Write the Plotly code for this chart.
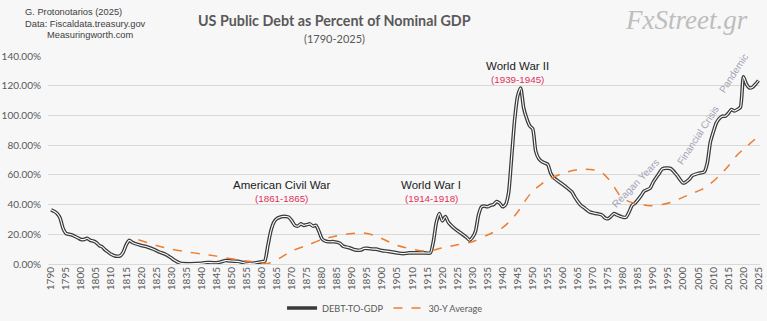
import plotly.graph_objects as go

# ---- data ----
debt_years = [1790, 1791, 1792, 1793, 1794, 1795, 1796, 1797, 1798, 1799, 1800, 1801, 1802, 1803, 1804,
              1805, 1806, 1807, 1808, 1809, 1810, 1811, 1812, 1813, 1814, 1815, 1816, 1817, 1818, 1820,
              1822, 1824, 1826, 1828, 1830, 1831, 1833, 1836, 1840, 1842, 1844, 1846, 1848, 1850, 1852,
              1855, 1857, 1860, 1861, 1862, 1863, 1864, 1865, 1866, 1867, 1868, 1869, 1870, 1871, 1872,
              1873, 1874, 1875, 1876, 1877, 1878, 1879, 1880, 1881, 1882, 1884, 1886, 1887, 1889, 1891,
              1893, 1894, 1895, 1897, 1898, 1900, 1902, 1905, 1907, 1909, 1911, 1914, 1916, 1917, 1918,
              1919, 1920, 1921, 1922, 1924, 1926, 1928, 1929, 1930, 1931, 1932, 1933, 1934, 1935, 1936,
              1937, 1938, 1939, 1940, 1941, 1942, 1943, 1944, 1945, 1946, 1947, 1948, 1949, 1950, 1951,
              1952, 1953, 1954, 1955, 1956, 1957, 1959, 1961, 1963, 1964, 1965, 1966, 1967, 1969, 1971,
              1973, 1974, 1975, 1976, 1977, 1978, 1980, 1981, 1982, 1983, 1984, 1986, 1987, 1989, 1990,
              1992, 1993, 1995, 1996, 1998, 2000, 2002, 2003, 2005, 2007, 2008, 2009, 2010, 2011, 2012,
              2013, 2014, 2015, 2016, 2017, 2018, 2019, 2020, 2021, 2022, 2023, 2024, 2025]
debt_values = [36.5, 35.5, 34, 31, 24, 20.5, 20, 19.5, 18.5, 17.5, 16.5, 16.5, 17.3, 16, 15.5,
               14.5, 12.5, 11.5, 9.5, 8, 6.5, 5.5, 5.2, 5.5, 8, 13, 15.9, 14.5, 13.7, 12.5,
               11.5, 10, 8, 6.5, 4, 2.5, 0.5, 0.2, 0.5, 1, 0.8, 1.2, 2.3, 2, 1.8,
               0.5, 0.5, 1.5, 2, 12, 22, 28, 30.5, 31.5, 32, 32, 31.5, 29, 26, 25.5,
               27, 26, 26.5, 27, 25.5, 26, 22, 17, 15.5, 15, 15, 14, 12, 11, 9.5,
               9.5, 10.5, 10.5, 10, 10, 9, 8.5, 7.5, 7, 7.5, 7.5, 7.5, 7.5, 15, 28,
               34, 29, 32, 28, 24, 21, 18, 16, 18, 22, 33, 38.5, 39, 38.5, 39.5,
               40, 42, 41, 38.5, 40, 48, 72, 97, 113, 118.5, 105, 98, 93, 91, 76,
               71, 69, 68, 67, 61, 58, 55, 52, 48.5, 45, 42, 39.5, 38, 35, 34,
               33, 31, 30.5, 32, 34, 33, 31.5, 31.5, 35, 39.5, 41, 46, 49, 51, 55,
               61, 64, 64.5, 64, 59.5, 54.5, 57, 59.5, 61, 62, 68, 82, 89, 95, 98,
               99.5, 99.5, 101.5, 104, 103, 104, 105.5, 126, 121, 118.5, 119, 121, 123.5]

avg_years = [1819, 1825, 1830, 1835, 1840, 1845, 1850, 1855, 1860, 1862, 1866, 1870, 1875, 1880, 1885,
             1890, 1893, 1897, 1900, 1905, 1910, 1915, 1920, 1925, 1930, 1935, 1940, 1942, 1945, 1948,
             1950, 1953, 1956, 1960, 1965, 1970, 1973, 1975, 1977, 1979, 1982, 1985, 1989, 1993, 1996,
             2000, 2003, 2006, 2009, 2012, 2015, 2018, 2021, 2025]
avg_values = [16.3, 12.5, 10, 8.2, 6.8, 5.3, 3.5, 2, 0.7, 0.3, 4, 8.8, 12.5, 16.5, 19,
              20.5, 21, 19.5, 17, 12.5, 10, 8.6, 10.8, 13, 15, 19.5, 24.5, 28, 35, 44,
              49, 54, 57.5, 61, 63.6, 63.5, 61.5, 57.6, 52, 46, 42, 40.5, 39.2, 40, 41.5,
              45, 47.5, 50, 54, 59.5, 66, 73.5, 79, 86]

x_ticks = list(range(1790, 2026, 5))
y_ticks = [0, 20, 40, 60, 80, 100, 120, 140]

# ---- styling ----
BG = "#f7f7f7"
GRID = "#d9d9d9"
TXT = "#595959"
SANS = "Liberation Sans, Arial"
CAL = "Lato, Open Sans, sans-serif"

W, H = 767, 321
L, R, T, B = 48, 7, 56, 56.5

fig = go.Figure()
fig.add_trace(go.Scatter(x=debt_years, y=debt_values, mode="lines", name="DEBT-TO-GDP",
                         line=dict(color="#3a3a3a", width=3.6, shape="spline", smoothing=0.6),
                         hoverinfo="skip"))
fig.add_trace(go.Scatter(x=debt_years, y=debt_values, mode="lines", name="inner",
                         line=dict(color="#ffffff", width=1.1, shape="spline", smoothing=0.6),
                         showlegend=False, hoverinfo="skip"))
fig.add_trace(go.Scatter(x=avg_years, y=avg_values, mode="lines", name="30-Y Average",
                         line=dict(color="#ed7d31", width=1.5, dash="dash", shape="spline", smoothing=0.8),
                         hoverinfo="skip"))

header = [
    dict(text="G. Protonotarios (2025)", x=23, y=12, font=dict(size=9.3, color="#404040", family=SANS), xanchor="left"),
    dict(text="Data: Fiscaldata.treasury.gov", x=23, y=24, font=dict(size=9.3, color="#404040", family=SANS), xanchor="left"),
    dict(text="Measuringworth.com", x=45, y=35, font=dict(size=9.3, color="#404040", family=SANS), xanchor="left"),
    dict(text="<b>US Public Debt as Percent of Nominal GDP</b>", x=334, y=20, font=dict(size=14.3, color=TXT, family=CAL)),
    dict(text="(1790-2025)", x=334, y=38, font=dict(size=11, color=TXT, family=CAL)),
    dict(text="<i>FxStreet.gr</i>", x=686, y=20, font=dict(size=27, color="#bdbdbd", family="Liberation Serif")),
]
anns = []
for a in header:
    a = dict(a)
    a.setdefault("xanchor", "center")
    a.update(xref="paper", yref="paper", showarrow=False, yanchor="middle")
    a["x"] = (a["x"] - L) / (W - L - R)
    a["y"] = (H - B - a["y"]) / (H - B - T)
    anns.append(a)

labels = [
    ("American Civil War", 1866.6, 53.1, 11.5, "#1a1a1a", 0),
    ("(1861-1865)", 1866.6, 44.2, 9.8, "#e0305a", 0),
    ("World War I", 1916.3, 53.1, 11.5, "#1a1a1a", 0),
    ("(1914-1918)", 1916.3, 44.2, 9.8, "#e0305a", 0),
    ("World War II", 1945.0, 133.3, 11.5, "#1a1a1a", 0),
    ("(1939-1945)", 1945.0, 124.4, 9.8, "#e0305a", 0),
    ("Reagan Years", 1984.0, 54.5, 10, "#a3a3b5", -46),
    ("Financial Crisis", 2004.8, 86.6, 10, "#a3a3b5", -57),
    ("Pandemic", 2016.6, 128.5, 10, "#a3a3b5", -57),
]
for t, x, y, s, c, ang in labels:
    anns.append(dict(text=t, x=x, y=y, xref="x", yref="y", showarrow=False,
                     font=dict(size=s, color=c, family=SANS), textangle=ang,
                     xanchor="center", yanchor="middle"))

fig.update_layout(
    width=W, height=H,
    margin=dict(l=L, r=R, t=T, b=B, autoexpand=False),
    paper_bgcolor=BG, plot_bgcolor=BG,
    showlegend=True,
    legend=dict(orientation="h", x=0.502, xref="container", xanchor="center",
                y=1 - 308 / H, yref="container", yanchor="middle",
                font=dict(size=9.2, color=TXT, family=CAL), bgcolor="rgba(0,0,0,0)",
                itemwidth=30, tracegroupgap=0),
    annotations=anns,
    xaxis=dict(range=[1789, 2025.5], tickmode="array", tickvals=x_ticks,
               ticktext=[str(v) for v in x_ticks], tickangle=-90, automargin=False,
               tickfont=dict(size=10, color=TXT, family=CAL), showgrid=False,
               zeroline=False, showline=False, ticks=""),
    yaxis=dict(range=[0, 140], tickmode="array", tickvals=y_ticks, automargin=False,
               ticktext=[f"{v:.2f}%" for v in y_ticks],
               tickfont=dict(size=10, color=TXT, family=CAL), gridcolor=GRID, gridwidth=1,
               zeroline=True, zerolinecolor=GRID, zerolinewidth=1, showline=False, ticks="",
               ticklabelstandoff=6),
)

fig.write_html("out.html")
